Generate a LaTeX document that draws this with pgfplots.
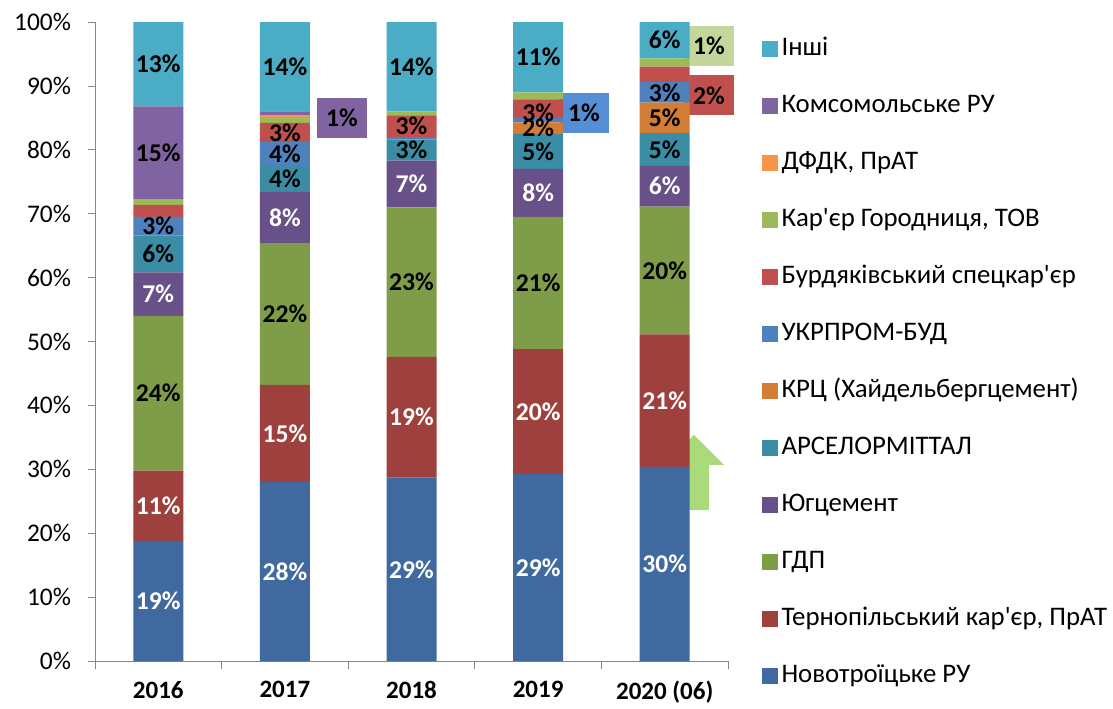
\documentclass[border=0pt]{standalone}
\usepackage{pgfplots}
\pgfplotsset{compat=1.18}
\usepackage{fontspec}
\setmainfont{Carlito}

\definecolor{cNov}{RGB}{64,105,160}
\definecolor{cTer}{RGB}{157,64,62}
\definecolor{cGdp}{RGB}{127,157,72}
\definecolor{cYug}{RGB}{104,80,136}
\definecolor{cArc}{RGB}{58,141,165}
\definecolor{cKrc}{RGB}{212,125,55}
\definecolor{cUkr}{RGB}{79,129,189}
\definecolor{cBur}{RGB}{192,80,77}
\definecolor{cGor}{RGB}{155,187,89}
\definecolor{cDfd}{RGB}{247,150,70}
\definecolor{cKom}{RGB}{128,100,162}
\definecolor{cIns}{RGB}{75,172,198}
\definecolor{cBoxB}{RGB}{85,142,213}
\definecolor{cBoxG}{RGB}{195,214,155}
\definecolor{cArrow}{RGB}{170,218,122}
\definecolor{axgray}{RGB}{134,134,134}

\newcommand\lbl{\fontsize{12.8}{14}\selectfont\bfseries}

\pgfplotsset{
  seg/.style={fill=#1, draw=none,
    legend image code/.code={\fill[#1] (0pt,-4pt) rectangle (8pt,4pt);}},
  base/.style={scale only axis, width=316.5pt, height=319.5pt,
    xmin=-0.5, xmax=4.5, ymin=0, ymax=100, clip=false},
  lab/.style={draw=none, mark=none, nodes near coords, point meta=explicit symbolic,
    every node near coord/.append style={font=\lbl, text=#1, anchor=center}},
}

\begin{document}
\begin{tikzpicture}
\begin{axis}[
    base,
    ybar stacked, bar width=25pt,
    enlargelimits=false,
    axis x line*=bottom, axis y line*=left,
    axis line style={draw=axgray},
    tick style={draw=axgray, thin},
    tick align=outside,
    major tick length=3.5pt, minor tick length=4pt,
    xtick={0,1,2,3,4},
    xticklabels={2016,2017,2018,2019,2020 (06)},
    x tick label style={font=\fontsize{12.5}{14}\selectfont\bfseries, yshift=-3pt},
    x tick style={draw=none},
    minor xtick={-0.5,0.5,1.5,2.5,3.5,4.5},
    minor x tick style={draw=axgray},
    ytick={0,10,...,100},
    yticklabels={0\%,10\%,20\%,30\%,40\%,50\%,60\%,70\%,80\%,90\%,100\%},
    y tick label style={font=\fontsize{12.7}{14}\selectfont, xshift=-5pt},
    reverse legend,
    legend cell align=left,
    legend style={draw=none, fill=none, inner sep=0pt, outer sep=0pt,
      at={(rel axis cs:1.053,0.983)}, anchor=north west,
      row sep=12pt, font=\fontsize{13.4}{15}\selectfont,
      nodes={text height=9.5pt, text depth=3pt}},
]
\addplot[seg=cNov] coordinates {(0,18.8) (1,28.0) (2,28.7) (3,29.3) (4,30.4)};
\addlegendentry{Новотроїцьке РУ}
\addplot[seg=cTer] coordinates {(0,11.0) (1,15.2) (2,18.9) (3,19.5) (4,20.7)};
\addlegendentry{Тернопільський кар\textquotesingle єр, ПрАТ}
\addplot[seg=cGdp] coordinates {(0,24.2) (1,22.2) (2,23.4) (3,20.7) (4,20.0)};
\addlegendentry{ГДП}
\addplot[seg=cYug] coordinates {(0,6.8) (1,8.0) (2,7.3) (3,7.5) (4,6.4)};
\addlegendentry{Югцемент}
\addplot[seg=cArc] coordinates {(0,5.8) (1,4.2) (2,3.3) (3,5.5) (4,5.1)};
\addlegendentry{АРСЕЛОРМІТТАЛ}
\addplot[seg=cKrc] coordinates {(0,0) (1,0) (2,0) (3,1.8) (4,4.8)};
\addlegendentry{КРЦ (Хайдельбергцемент)}
\addplot[seg=cUkr] coordinates {(0,2.9) (1,3.6) (2,0.4) (3,0.7) (4,3.2)};
\addlegendentry{УКРПРОМ-БУД}
\addplot[seg=cBur] coordinates {(0,1.9) (1,3.0) (2,3.4) (3,2.9) (4,2.4)};
\addlegendentry{Бурдяківський спецкар\textquotesingle єр}
\addplot[seg=cGor] coordinates {(0,0.8) (1,0.9) (2,0.6) (3,1.1) (4,1.3)};
\addlegendentry{Кар\textquotesingle єр Городниця, ТОВ}
\addplot[seg=cDfd] coordinates {(0,0) (1,0.3) (2,0) (3,0) (4,0)};
\addlegendentry{ДФДК, ПрАТ}
\addplot[seg=cKom] coordinates {(0,14.6) (1,0.6) (2,0) (3,0) (4,0)};
\addlegendentry{Комсомольське РУ}
\addplot[seg=cIns] coordinates {(0,13.2) (1,14.0) (2,14.0) (3,11.0) (4,5.7)};
\addlegendentry{Інші}

% callouts for the thin segments
\node[fill=cKom, minimum width=25pt, minimum height=20pt, font=\lbl] at (axis cs:1.451,85.0) {1\%};
\node[fill=cBoxB, minimum width=25pt, minimum height=20pt, font=\lbl] at (axis cs:3.363,85.8) {1\%};
\node[fill=cBoxG, minimum width=25pt, minimum height=20pt, font=\lbl] at (axis cs:4.35,96.3) {1\%};
\node[fill=cBur, minimum width=25pt, minimum height=20pt, font=\lbl] at (axis cs:4.35,88.5) {2\%};
% growth arrow
\fill[cArrow] (axis cs:4.231,35.4) -- (axis cs:4.468,30.7) -- (axis cs:4.349,30.7)
  -- (axis cs:4.349,23.6) -- (axis cs:4.112,23.6) -- (axis cs:4.112,30.7)
  -- (axis cs:3.994,30.7) -- cycle;
\end{axis}

% segment labels, at the middle of each segment
\begin{axis}[base, hide axis]
\addplot[lab=white] coordinates {
  (0,9.4) [19\%] (1,14.0) [28\%] (2,14.35) [29\%] (3,14.65) [29\%] (4,15.2) [30\%]
  (0,24.3) [11\%] (1,35.6) [15\%] (2,38.15) [19\%] (3,39.05) [20\%] (4,40.75) [21\%]
  (0,57.4) [7\%] (1,69.4) [8\%] (2,74.65) [7\%] (3,73.25) [8\%] (4,74.3) [6\%]};
\addplot[lab=black] coordinates {
  (0,41.9) [24\%] (1,54.3) [22\%] (2,59.3) [23\%] (3,59.15) [21\%] (4,61.1) [20\%]
  (0,63.7) [6\%] (1,75.5) [4\%] (2,79.95) [3\%] (3,79.75) [5\%] (4,80.05) [5\%]
  (3,83.4) [2\%] (4,85.0) [5\%]
  (0,68.05) [3\%] (1,79.4) [4\%] (4,89.0) [3\%]
  (1,82.7) [3\%] (2,83.7) [3\%] (3,85.8) [3\%]
  (0,79.5) [15\%]
  (0,93.4) [13\%] (1,93.0) [14\%] (2,93.0) [14\%] (3,94.5) [11\%] (4,97.15) [6\%]};
\end{axis}
\pgfresetboundingbox
\path[use as bounding box] (-47.5pt,-23.5pt) rectangle (509pt,330.5pt);
\end{tikzpicture}
\end{document}
